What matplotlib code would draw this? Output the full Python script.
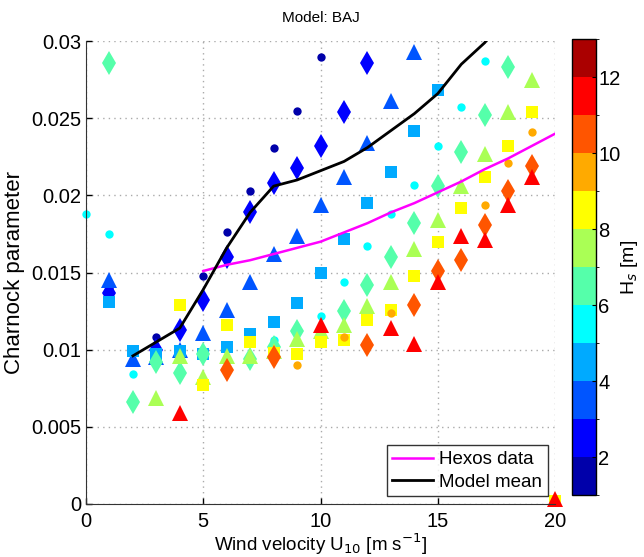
import numpy as np
import matplotlib
matplotlib.use("Agg")
import matplotlib.pyplot as plt
from matplotlib.colors import BoundaryNorm, ListedColormap

plt.rcParams["font.family"] = ["Liberation Sans", "DejaVu Sans"]

# Hs bins (centre values), one marker style per bin
hs_bins = [1.5, 2.5, 3.5, 4.5, 5.5, 6.5, 7.5, 8.5, 9.5, 10.5, 11.5]
markers = ["o", "d", "^", "s", "o", "d", "^", "s", "o", "d", "^"]

# wind speed / charnock values for each Hs bin
u_hs1 = [1, 3, 5, 6, 7, 8, 9, 10]
ch_hs1 = [0.0140, 0.0108, 0.0148, 0.0176, 0.0203, 0.0231, 0.0255, 0.0290]

u_hs2 = [1, 3, 4, 5, 6, 7, 8, 9, 10, 11, 12]
ch_hs2 = [0.0137, 0.0100, 0.0113, 0.0132, 0.0160, 0.0189, 0.0208, 0.0218, 0.0232, 0.0254, 0.0286]

u_hs3 = [1, 2, 3, 4, 5, 6, 7, 8, 9, 10, 11, 12, 13, 14]
ch_hs3 = [0.0145, 0.0094, 0.0095, 0.0100, 0.0111, 0.0126, 0.0144, 0.0162, 0.0174, 0.0194,
          0.0212, 0.0234, 0.0261, 0.0293]

u_hs4 = [1, 2, 3, 4, 5, 6, 7, 8, 9, 10, 11, 12, 13, 14, 15]
ch_hs4 = [0.0131, 0.0099, 0.0097, 0.0099, 0.0097, 0.0102, 0.0110, 0.0118, 0.0130, 0.0150,
          0.0172, 0.0195, 0.0215, 0.0242, 0.0268]

u_hs5 = [0, 1, 2, 8, 10, 11, 12, 13, 14, 15, 16, 17]
ch_hs5 = [0.0188, 0.0175, 0.0084, 0.0106, 0.0122, 0.0144, 0.0167, 0.0188, 0.0207, 0.0232,
          0.0257, 0.0287]

u_hs6 = [1, 2, 3, 4, 5, 7, 8, 9, 11, 12, 13, 14, 15, 16, 17, 18]
ch_hs6 = [0.0286, 0.0066, 0.0092, 0.0085, 0.0097, 0.0094, 0.0102, 0.0112, 0.0125, 0.0142,
          0.0160, 0.0182, 0.0206, 0.0228, 0.0252, 0.0283]

u_hs7 = [3, 4, 5, 6, 7, 8, 9, 10, 11, 12, 13, 14, 15, 16, 17, 18, 19]
ch_hs7 = [0.0069, 0.0096, 0.0082, 0.0096, 0.0096, 0.0099, 0.0107, 0.0112, 0.0116, 0.0128,
          0.0144, 0.0165, 0.0184, 0.0206, 0.0227, 0.0254, 0.0275]

u_hs8 = [4, 5, 6, 7, 8, 9, 10, 11, 12, 13, 14, 15, 16, 17, 18, 19, 20]
ch_hs8 = [0.0129, 0.0077, 0.0116, 0.0105, 0.0098, 0.0097, 0.0105, 0.0106, 0.0119, 0.0126,
          0.0148, 0.0170, 0.0192, 0.0212, 0.0232, 0.0254, 0.0002]

u_hs9 = [9, 11, 13, 17, 18, 19]
ch_hs9 = [0.0090, 0.0108, 0.0124, 0.0194, 0.0221, 0.0241]

u_hs10 = [6, 8, 12, 14, 15, 16, 17, 18, 19]
ch_hs10 = [0.0087, 0.0095, 0.0103, 0.0129, 0.0151, 0.0158, 0.0181, 0.0203, 0.0219]

u_hs11 = [4, 10, 13, 14, 15, 16, 17, 18, 19, 20]
ch_hs11 = [0.0059, 0.0116, 0.0114, 0.0104, 0.0144, 0.0174, 0.0171, 0.0194, 0.0212, 0.0003]

u_all = [u_hs1, u_hs2, u_hs3, u_hs4, u_hs5, u_hs6, u_hs7, u_hs8, u_hs9, u_hs10, u_hs11]
ch_all = [ch_hs1, ch_hs2, ch_hs3, ch_hs4, ch_hs5, ch_hs6, ch_hs7, ch_hs8, ch_hs9, ch_hs10, ch_hs11]

# lines
u_hexos = [5, 6, 7, 8, 9, 10, 11, 12, 13, 14, 15, 16, 17, 18, 19, 20]
ch_hexos = [0.0151, 0.0155, 0.0158, 0.0162, 0.0166, 0.0170, 0.0176, 0.0182, 0.0189, 0.0195,
            0.0202, 0.0209, 0.0217, 0.0224, 0.0232, 0.0240]

u_mean = [2, 3, 4, 5, 6, 7, 8, 9, 10, 11, 12, 13, 14, 15, 16, 17, 18]
ch_mean = [0.0096, 0.0105, 0.0114, 0.0139, 0.0166, 0.0189, 0.0206, 0.0210, 0.0216, 0.0222,
           0.0231, 0.0242, 0.0253, 0.0266, 0.0285, 0.0299, 0.0318]

# 12-level jet, same as the matlab one
jet12 = [(0, 0, 2/3), (0, 0, 1), (0, 1/3, 1), (0, 2/3, 1), (0, 1, 1), (1/3, 1, 2/3),
         (2/3, 1, 1/3), (1, 1, 0), (1, 2/3, 0), (1, 1/3, 0), (1, 0, 0), (2/3, 0, 0)]
cmap = ListedColormap(jet12)
norm = BoundaryNorm(np.arange(1, 14), cmap.N)
msize = {"o": 6, "d": 12.5, "^": 11.5, "s": 8}

fig = plt.figure(figsize=(6.44, 5.57), dpi=100)
ax = fig.add_axes([0.1335, 0.0952, 0.7285, 0.831])

for hs, m, u, ch in zip(hs_bins, markers, u_all, ch_all):
    ax.plot(u, ch, linestyle="none", marker=m, ms=msize[m], color=cmap(norm(hs)),
            markeredgewidth=0, clip_on=False, zorder=2)

ax.plot(u_hexos, ch_hexos, color="magenta", lw=1.8, label="Hexos data", zorder=3)
ax.plot(u_mean, ch_mean, color="black", lw=2, label="Model mean", zorder=3)

ax.set_xlim(0, 20)
ax.set_ylim(0, 0.03)
ax.set_xticks([0, 5, 10, 15, 20])
ax.set_yticks([0, 0.005, 0.01, 0.015, 0.02, 0.025, 0.03])
ax.set_yticklabels(["0", "0.005", "0.01", "0.015", "0.02", "0.025", "0.03"])
ax.tick_params(direction="in", labelsize=14.5, length=4, width=1)
ax.tick_params(axis="x", pad=6)
ax.spines["top"].set_visible(False)
ax.spines["right"].set_visible(False)
ax.spines["left"].set_color("#333333")
ax.spines["bottom"].set_color("#333333")
ax.grid(True, linestyle=(0, (1, 3)), color="#aaaaaa", lw=1)
ax.set_axisbelow(True)

ax.set_xlabel("Wind velocity U$_{10}$ [m s$^{-1}$]", fontsize=13.5, labelpad=0)
ax.set_ylabel("Charnock parameter", fontsize=16, labelpad=4)
ax.set_title("Model: BAJ", fontsize=11, pad=14)

leg = ax.legend(loc="lower right", fontsize=13.5, frameon=True, fancybox=False,
                edgecolor="black", borderaxespad=0.4, handlelength=2.2,
                borderpad=0.3, labelspacing=0.3, handletextpad=0.3)
leg.get_frame().set_linewidth(1)

cax = fig.add_axes([0.888, 0.111, 0.037, 0.819])
sm = plt.cm.ScalarMappable(cmap=cmap, norm=norm)
cb = fig.colorbar(sm, cax=cax, ticks=[2, 4, 6, 8, 10, 12])
cb.ax.tick_params(direction="in", labelsize=14.5, length=3, pad=2)
cb.outline.set_linewidth(1)
cb.set_label("H$_s$ [m]", fontsize=14, labelpad=-1)

fig.savefig("out.png", dpi=100)
